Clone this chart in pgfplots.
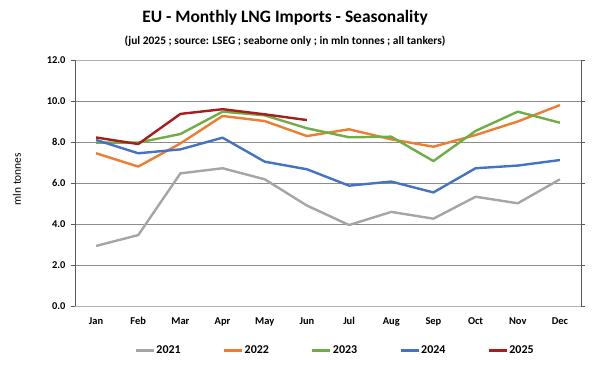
\documentclass[border=0pt]{standalone}
\usepackage{pgfplots}
\pgfplotsset{compat=1.18}
\usepackage{fontspec}
\setmainfont{Carlito}
\definecolor{c21}{HTML}{A5A5A5}
\definecolor{c22}{HTML}{ED7D31}
\definecolor{c23}{HTML}{70AD47}
\definecolor{c24}{HTML}{4472C4}
\definecolor{c25}{HTML}{A81C1C}
\begin{document}
\begin{tikzpicture}
\useasboundingbox (0bp,0bp) rectangle (600bp,372bp);
\node[font=\fontsize{17.5}{20}\selectfont\bfseries] at (285bp,354bp) {EU - Monthly LNG Imports - Seasonality};
\node[font=\fontsize{11.5}{13}\selectfont\bfseries] at (285bp,331bp) {(jul 2025 ; source: LSEG ; seaborne only ; in mln tonnes ; all tankers)};
\node[font=\fontsize{11.5}{13}\selectfont, rotate=90] at (17bp,193bp) {mln tonnes};
\begin{axis}[
  at={(75bp,66bp)}, anchor=south west,
  width=506bp, height=246bp, scale only axis,
  xmin=0, xmax=12, ymin=0, ymax=12,
  xtick={0.5,1.5,...,11.5},
  xticklabels={Jan,Feb,Mar,Apr,May,Jun,Jul,Aug,Sep,Oct,Nov,Dec},
  ytick={0,2,...,12},
  yticklabel style={/pgf/number format/fixed,/pgf/number format/fixed zerofill,/pgf/number format/precision=1},
  /pgf/number format/assume math mode=true,
  ticklabel style={font=\fontsize{10.5}{12}\selectfont\bfseries},
  x tick style={draw=none},
  y tick style={draw=gray!70!black, line width=0.8bp},
  tick align=outside, major tick length=4bp,
  ymajorgrids, major grid style={gray!90, line width=0.9bp},
  axis line style={gray!60, line width=0.9bp},
  separate axis lines,
  y axis line style={gray!70!black},
  xticklabel style={yshift=-4bp},
  yticklabel style={xshift=-2bp},
  legend columns=5,
  legend style={at={(0.513,-0.179)}, anchor=center, draw=none, fill=none,
    font=\fontsize{12}{14}\selectfont\bfseries,
    nodes={inner xsep=1bp},
    /tikz/every even column/.append style={column sep=41bp},
    inner sep=0pt},
  legend image code/.code={\draw[#1, line width=3bp] (0bp,0bp) -- (18bp,0bp);},
  every axis plot/.append style={line width=2.4bp, line join=round},
  clip=false,
]
\addplot[c21] coordinates {(0.5,2.93)(1.5,3.46)(2.5,6.47)(3.5,6.72)(4.5,6.18)(5.5,4.90)(6.5,3.95)(7.5,4.59)(8.5,4.26)(9.5,5.33)(10.5,5.01)(11.5,6.18)};
\addlegendentry{2021}
\addplot[c22] coordinates {(0.5,7.45)(1.5,6.80)(2.5,7.93)(3.5,9.27)(4.5,9.02)(5.5,8.29)(6.5,8.62)(7.5,8.13)(8.5,7.77)(9.5,8.34)(10.5,9.00)(11.5,9.80)};
\addlegendentry{2022}
\addplot[c23] coordinates {(0.5,7.97)(1.5,7.97)(2.5,8.39)(3.5,9.48)(4.5,9.30)(5.5,8.67)(6.5,8.23)(7.5,8.26)(8.5,7.07)(9.5,8.54)(10.5,9.48)(11.5,8.94)};
\addlegendentry{2023}
\addplot[c24] coordinates {(0.5,8.10)(1.5,7.45)(2.5,7.64)(3.5,8.21)(4.5,7.04)(5.5,6.67)(6.5,5.87)(7.5,6.07)(8.5,5.54)(9.5,6.72)(10.5,6.85)(11.5,7.12)};
\addlegendentry{2024}
\addplot[c25] coordinates {(0.5,8.22)(1.5,7.90)(2.5,9.37)(3.5,9.60)(4.5,9.35)(5.5,9.07)};
\addlegendentry{2025}
\end{axis}
\end{tikzpicture}
\end{document}
